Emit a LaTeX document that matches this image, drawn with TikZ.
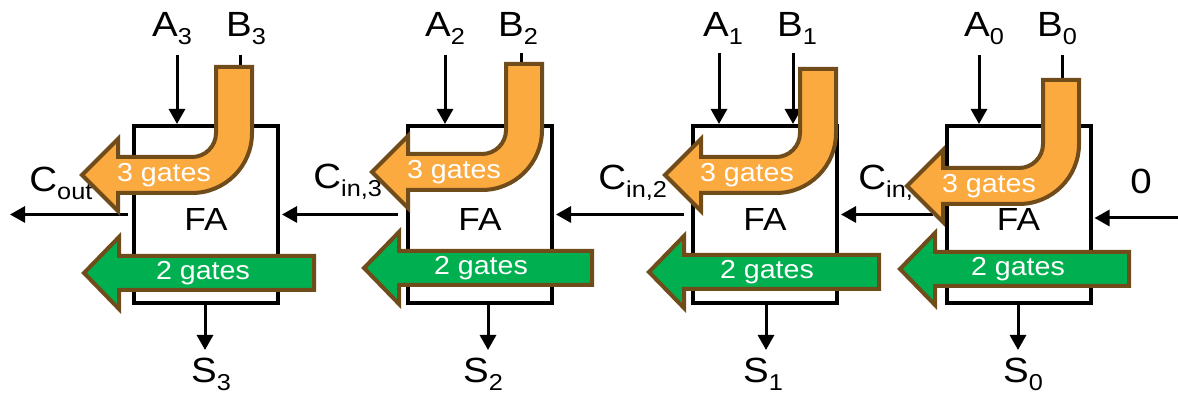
\documentclass[tikz,border=0pt]{standalone}
\usepackage{fontspec}
\setmainfont{Liberation Sans}[FakeStretch=1.1]
\usetikzlibrary{arrows.meta}
\definecolor{gateorange}{RGB}{251,170,64}
\definecolor{gategreen}{RGB}{0,176,80}
\definecolor{gatebrown}{RGB}{112,76,26}
% lowered small index for signal names
\newcommand{\sbs}[1]{\raisebox{-4pt}{\fontsize{11.5}{11.5}\selectfont #1}}
% bent carry arrow: name, stem left, stem top, band top, head back
\newcommand{\bentarrow}[5]{%
	\draw[slowpath] (#2,#3) -- (#2+36,#3) -- (#2+36,#4-24)
		arc[start angle=0,end angle=90,radius=60] -- (#5,#4+36) -- (#5,#4+54)
		-- (#5-36,#4+18) -- (#5,#4-18) -- (#5,#4) -- (#2-24,#4)
		arc[start angle=90,end angle=0,radius=24] -- cycle;
	\node[gatetxt] (#1) at (#5+46,#4+18) {3 gates};}
% straight sum arrow: name, tip, middle, tail, text x
\newcommand{\flatarrow}[5]{%
	\draw[fastpath] (#2,#3) -- (#2+35,#3-36) -- (#2+35,#3-17) -- (#4,#3-17)
		-- (#4,#3+17) -- (#2+35,#3+17) -- (#2+35,#3+36) -- cycle;
	\node[gatetxt] (#1) at (#5,#3) {2 gates};}
\begin{document}
\begin{tikzpicture}[x=0.5pt,y=-0.5pt,
		fabox/.style={draw,line width=2pt,minimum width=72pt,minimum height=88.5pt,inner sep=0pt},
		wire/.style={line width=1.5pt,-{Triangle[length=7.5pt,width=8pt]}},
		stub/.style={line width=1.5pt},
		lbl/.style={font=\fontsize{17.5}{17.5}\selectfont,anchor=base,inner sep=0pt},
		fatxt/.style={font=\fontsize{16}{16}\selectfont},
		gatetxt/.style={text=white,font=\fontsize{13}{13}\selectfont},
		slowpath/.style={fill=gateorange,draw=gatebrown,line width=2pt},
		fastpath/.style={fill=gategreen,draw=gatebrown,line width=2pt}]
	\useasboundingbox (0,0) rectangle (1178,399);
	% the four full adders
	\node[fabox] (fa3) at (206,214.5) {};
	\node[fabox] (fa2) at (480,214.5) {};
	\node[fabox] (fa1) at (765,214.5) {};
	\node[fabox] (fa0) at (1018.5,214.5) {};
	\node[fatxt] (t3) at (206,219) {FA};
	\node[fatxt] (t2) at (480,219) {FA};
	\node[fatxt] (t1) at (765,219) {FA};
	\node[fatxt] (t0) at (1018.5,219) {FA};
	% operands
	\coordinate (a3) at (177,55);
	\coordinate (a2) at (445,55);
	\coordinate (a1) at (719,53);
	\coordinate (a0) at (979,55);
	\coordinate (b3) at (240,55);
	\coordinate (b2) at (521,53);
	\coordinate (b1) at (793,53);
	\coordinate (b0) at (1062,55);
	\draw[wire] (a3) -- (a3 |- fa3.north);
	\draw[wire] (a2) -- (a2 |- fa2.north);
	\draw[wire] (a1) -- (a1 |- fa1.north);
	\draw[wire] (a0) -- (a0 |- fa0.north);
	\draw[stub] (b3) -- (b3 |- fa3.north);
	\draw[stub] (b2) -- (b2 |- fa2.north);
	\draw[wire] (b1) -- (b1 |- fa1.north);
	\draw[stub] (b0) -- (b0 |- fa0.north);
	\node[lbl] (la3) at (172,37) {A\sbs{3}};
	\node[lbl] (lb3) at (246,37) {B\sbs{3}};
	\node[lbl] (la2) at (445,37) {A\sbs{2}};
	\node[lbl] (lb2) at (518,37) {B\sbs{2}};
	\node[lbl] (la1) at (723,37) {A\sbs{1}};
	\node[lbl] (lb1) at (797,37) {B\sbs{1}};
	\node[lbl] (la0) at (984,37) {A\sbs{0}};
	\node[lbl] (lb0) at (1057,37) {B\sbs{0}};
	% carry chain
	\coordinate (cout) at (10,214.5);
	\coordinate (zero) at (1178,218);
	\draw[wire] ([xshift=-2pt]fa3.west) -- (cout);
	\draw[wire] ([xshift=-4pt]fa2.west) -- ([xshift=1pt]fa3.east);
	\draw[wire] ([xshift=-3.5pt]fa1.west) -- ([xshift=1pt]fa2.east);
	\draw[wire] ([xshift=-6pt]fa0.west) -- ([xshift=1pt]fa1.east);
	\draw[wire] (zero) -- ([xshift=1pt]fa0.east |- zero);
	\node[lbl,anchor=base west] (lcout) at (29,192) {C\sbs{out}};
	\node[lbl,anchor=base west] (lc3) at (313,189) {C\sbs{in,3}};
	\node[lbl,anchor=base west] (lc2) at (598,190) {C\sbs{in,2}};
	\node[lbl,anchor=base west] (lc1) at (858,190) {C\sbs{in,1}};
	\node[lbl] (lzero) at (1141,194) {0};
	% sums
	\coordinate (s3) at (205,350);
	\coordinate (s2) at (488,350);
	\coordinate (s1) at (766,350);
	\coordinate (s0) at (1018,350);
	\draw[wire] (s3 |- fa3.south) -- (s3);
	\draw[wire] (s2 |- fa2.south) -- (s2);
	\draw[wire] (s1 |- fa1.south) -- (s1);
	\draw[wire] (s0 |- fa0.south) -- (s0);
	\node[lbl] (ls3) at (211,383) {S\sbs{3}};
	\node[lbl] (ls2) at (483,383) {S\sbs{2}};
	\node[lbl] (ls1) at (763,383) {S\sbs{1}};
	\node[lbl] (ls0) at (1023,383) {S\sbs{0}};
	% gate delays
	\flatarrow{g3}{84}{273}{314}{203}
	\flatarrow{g2}{364}{268}{592}{481}
	\flatarrow{g1}{649}{272}{879}{767}
	\flatarrow{g0}{900}{269}{1129}{1018}
	\bentarrow{d3}{216}{67}{157}{118}
	\bentarrow{d2}{506}{64}{154}{408}
	\bentarrow{d1}{800}{69}{157}{701}
	\bentarrow{d0}{1043}{80}{168}{943}
\end{tikzpicture}
\end{document}
